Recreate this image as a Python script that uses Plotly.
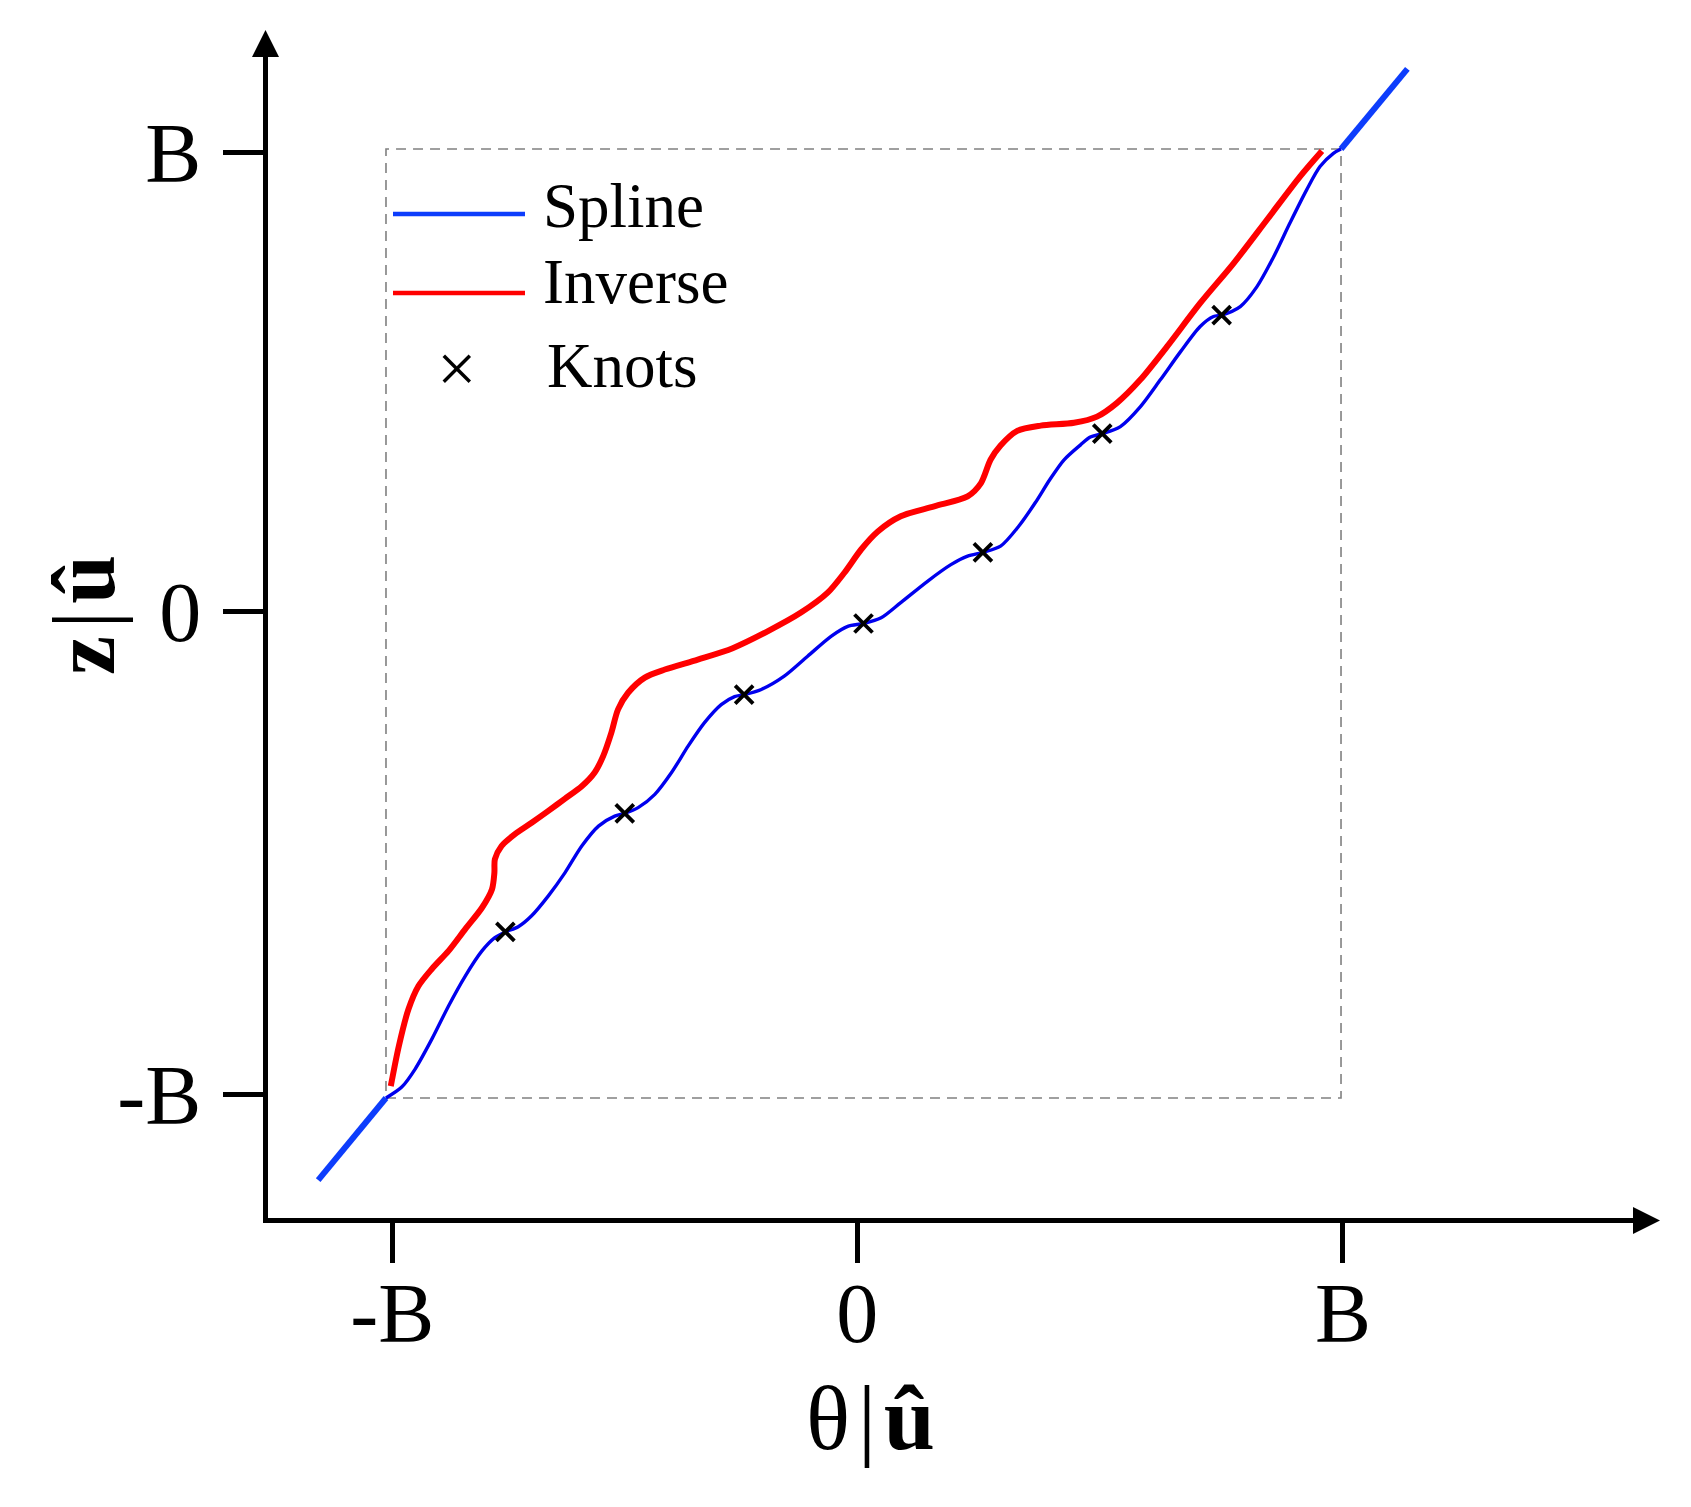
import plotly.graph_objects as go

# ---------------- data (units of B) ----------------
spline_x = [-1.0, -0.967, -0.939, -0.904, -0.869, -0.834, -0.799, -0.772, -0.75,
            -0.723, -0.695, -0.660, -0.625, -0.590, -0.555, -0.521, -0.5,
            -0.472, -0.437, -0.402, -0.367, -0.333, -0.298, -0.270, -0.25,
            -0.214, -0.166, -0.117, -0.068, -0.033, 0.0,
            0.037, 0.078, 0.134, 0.183, 0.218, 0.25,
            0.287, 0.325, 0.360, 0.390, 0.420, 0.455, 0.475, 0.5,
            0.538, 0.580, 0.622, 0.664, 0.705, 0.733, 0.75,
            0.789, 0.824, 0.859, 0.893, 0.928, 0.956, 0.984, 1.0]
spline_y = [-1.0, -0.977, -0.939, -0.876, -0.806, -0.743, -0.690, -0.662, -0.65,
            -0.639, -0.616, -0.574, -0.525, -0.469, -0.427, -0.406, -0.40,
            -0.388, -0.360, -0.314, -0.258, -0.209, -0.171, -0.154, -0.15,
            -0.139, -0.111, -0.069, -0.027, -0.006, 0.0,
            0.012, 0.044, 0.089, 0.124, 0.142, 0.15,
            0.163, 0.205, 0.255, 0.303, 0.345, 0.377, 0.393, 0.40,
            0.415, 0.457, 0.514, 0.573, 0.626, 0.647, 0.65,
            0.668, 0.710, 0.773, 0.844, 0.914, 0.963, 0.991, 1.0]

tail_x = [-1.142, -1.0, None, 1.0, 1.139]
tail_y = [-1.173, -1.0, None, 1.0, 1.169]

inverse_x = [-0.990, -0.973, -0.953, -0.932, -0.904, -0.869, -0.834, -0.799, -0.778,
             -0.773, -0.772, -0.758, -0.730, -0.695, -0.660, -0.625, -0.590, -0.563,
             -0.545, -0.528, -0.514, -0.493, -0.458, -0.416, -0.347, -0.274, -0.200,
             -0.131, -0.075, -0.040, -0.005, 0.030, 0.078, 0.148, 0.218, 0.246,
             0.266, 0.287, 0.322, 0.371, 0.441, 0.489, 0.531, 0.580, 0.636, 0.705,
             0.775, 0.845, 0.914, 0.960]
inverse_y = [-0.975, -0.890, -0.813, -0.764, -0.728, -0.690, -0.644, -0.599, -0.560,
             -0.525, -0.497, -0.469, -0.444, -0.420, -0.395, -0.369, -0.343, -0.314,
             -0.279, -0.230, -0.181, -0.146, -0.114, -0.097, -0.076, -0.052, -0.016,
             0.023, 0.065, 0.107, 0.156, 0.194, 0.226, 0.247, 0.268, 0.296,
             0.345, 0.375, 0.406, 0.417, 0.423, 0.436, 0.465, 0.514, 0.584, 0.675,
             0.759, 0.851, 0.942, 0.996]

knot_x = [-0.75, -0.5, -0.25, 0.0, 0.25, 0.5, 0.75]
knot_y = [-0.65, -0.40, -0.15, 0.0, 0.15, 0.40, 0.65]

box_lo, box_hi = -1.0, 1.0
x_tick_vals = [-0.987, -0.013, 1.004]
y_tick_vals = [-0.993, 0.025, 0.992]
tick_text = ["-B", "0", "B"]
legend_labels = ["Spline", "Inverse", "Knots"]
x_title = "θ\u200a|\u200a<b>û</b>"
y_title = "<b>z</b>\u200a|\u200a<b>û</b>"

# ---------------- styling ----------------
W, H = 1691, 1507
ML, MR, MT, MB = 268, 46, 45, 289
FONT = "Liberation Serif, Times New Roman, serif"
TAIL_BLUE = "#0d3dfc"
SPLINE_BLUE = "#0000ee"
RED = "#ff0000"

def px(xp):
    return (xp - ML) / (W - ML - MR)

def py(yp):
    return (H - MB - yp) / (H - MT - MB)

fig = go.Figure()
fig.add_trace(go.Scatter(x=tail_x, y=tail_y, mode="lines", name="tails",
                         line=dict(color=TAIL_BLUE, width=6), showlegend=False,
                         connectgaps=False))
fig.add_trace(go.Scatter(x=spline_x, y=spline_y, mode="lines", name=legend_labels[0],
                         line=dict(color=SPLINE_BLUE, width=3.4, shape="spline", smoothing=0.8),
                         showlegend=False))
fig.add_trace(go.Scatter(x=inverse_x, y=inverse_y, mode="lines", name=legend_labels[1],
                         line=dict(color=RED, width=6, shape="spline", smoothing=0.8),
                         showlegend=False))
fig.add_trace(go.Scatter(x=knot_x, y=knot_y, mode="markers", name=legend_labels[2],
                         marker=dict(symbol="x-thin", size=18,
                                     line=dict(color="black", width=3.8)),
                         showlegend=False))

shapes = [
    dict(type="rect", xref="x", yref="y", x0=box_lo, x1=box_hi, y0=box_lo, y1=box_hi,
         line=dict(color="#808080", width=1.6, dash="10px,7px"), layer="below"),
    # arrow heads for axes
    dict(type="path", xref="paper", yref="paper",
         path=f"M {px(1660)} {py(1220.5)} L {px(1633)} {py(1207)} L {px(1633)} {py(1234)} Z",
         fillcolor="black", line=dict(width=0)),
    dict(type="path", xref="paper", yref="paper",
         path=f"M {px(265.5)} {py(30)} L {px(252)} {py(57)} L {px(279)} {py(57)} Z",
         fillcolor="black", line=dict(width=0)),
    # legend line samples
    dict(type="line", xref="paper", yref="paper", x0=px(393), x1=px(525),
         y0=py(214), y1=py(214), line=dict(color=TAIL_BLUE, width=4.5)),
    dict(type="line", xref="paper", yref="paper", x0=px(393), x1=px(525),
         y0=py(293), y1=py(293), line=dict(color=RED, width=4.5)),
]

annotations = [
    dict(xref="paper", yref="paper", x=px(541), y=py(206), text=legend_labels[0],
         showarrow=False, xanchor="left", yanchor="middle",
         font=dict(family=FONT, size=63, color="black")),
    dict(xref="paper", yref="paper", x=px(541), y=py(282), text=legend_labels[1],
         showarrow=False, xanchor="left", yanchor="middle",
         font=dict(family=FONT, size=63, color="black")),
    dict(xref="paper", yref="paper", x=px(545), y=py(366), text=legend_labels[2],
         showarrow=False, xanchor="left", yanchor="middle",
         font=dict(family=FONT, size=63, color="black")),
    dict(xref="paper", yref="paper", x=px(456), y=py(368), text="×",
         showarrow=False, xanchor="center", yanchor="middle",
         font=dict(family=FONT, size=70, color="black")),
    # axis titles
    dict(xref="paper", yref="paper", x=px(870), y=py(1418), text=x_title,
         showarrow=False, xanchor="center", yanchor="middle",
         font=dict(family=FONT, size=92, color="black")),
    dict(xref="paper", yref="paper", x=px(84), y=py(615), text=y_title,
         showarrow=False, xanchor="center", yanchor="middle", textangle=-90,
         font=dict(family=FONT, size=88, color="black")),
]

axis_common = dict(showgrid=False, zeroline=False, showline=True, linecolor="black",
                   linewidth=5, ticks="outside", ticklen=40, tickwidth=4.5,
                   tickcolor="black", automargin=False, ticktext=tick_text,
                   tickfont=dict(family=FONT, size=84, color="black"))

fig.update_layout(
    width=W, height=H, template="none",
    paper_bgcolor="white", plot_bgcolor="white",
    margin=dict(l=ML, r=MR, t=MT, b=MB, pad=0),
    showlegend=False,
    xaxis=dict(range=[-1.2471, 1.6366], tickvals=x_tick_vals, ticklabelstandoff=-22,
               **axis_common),
    yaxis=dict(range=[-1.2529, 1.2192], tickvals=y_tick_vals, ticklabelstandoff=5,
               **axis_common),
    shapes=shapes, annotations=annotations,
)

fig.write_html("out.html", config={"displayModeBar": False},
               post_script="document.body.style.margin='0';document.body.style.padding='0';")
